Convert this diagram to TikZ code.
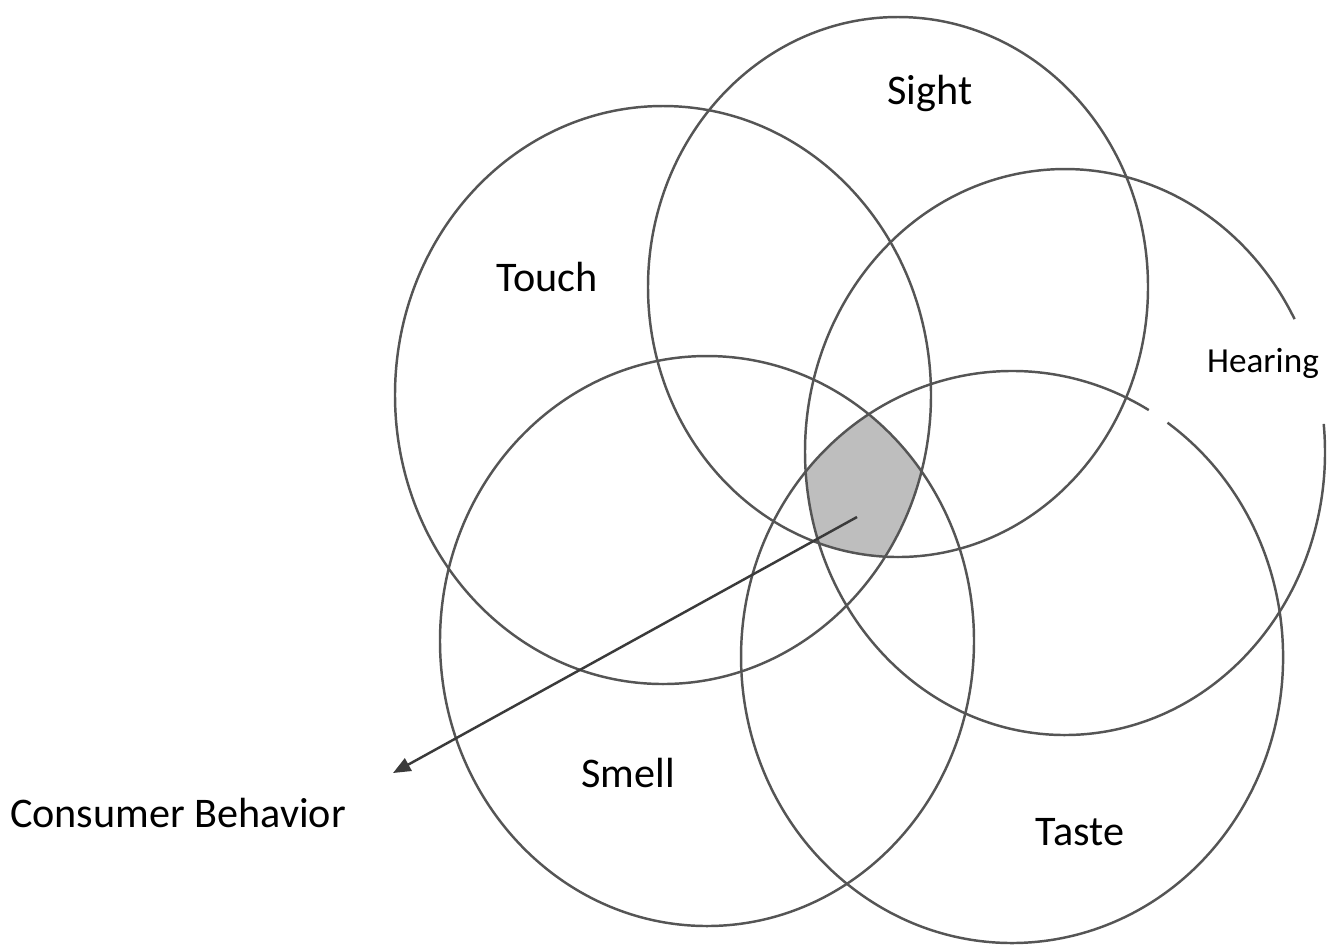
\documentclass[tikz,border=0pt]{standalone}
\usepackage{fontspec}
\setmainfont{Carlito}
\usetikzlibrary{arrows.meta}
\definecolor{ringgray}{HTML}{555555}
\definecolor{coregray}{HTML}{BEBEBE}
\definecolor{arrowgray}{HTML}{3A3A3A}
\tikzset{
  ring/.style={draw=ringgray, line width=0.7pt},
  sense/.style={font=\fontsize{12}{14}\selectfont, inner sep=0pt},
}
\begin{document}
\begin{tikzpicture}[x=0.01cm, y=-0.01cm]
    \useasboundingbox (0,0) rectangle (1330,944);

    % shaded core: inside all five senses
    \begin{scope}
        \clip (898,287) ellipse [x radius=250, y radius=270];
        \clip (663,395) ellipse [x radius=268, y radius=289];
        \clip (1065,452) ellipse [x radius=260, y radius=283];
        \clip (707,641) ellipse [x radius=267, y radius=285];
        \fill[coregray] (1012,657) ellipse [x radius=271, y radius=286];
    \end{scope}

    % the five senses
    \draw[ring] (898,287) ellipse [x radius=250, y radius=270];
    \draw[ring] (663,395) ellipse [x radius=268, y radius=289];
    \draw[ring] (1323.7,423.9) arc [start angle=-5.7, end angle=332, x radius=260, y radius=283];
    \draw[ring] (707,641) ellipse [x radius=267, y radius=285];
    \draw[ring] (1167.5,422.7) arc [start angle=-55, end angle=300.3, x radius=271, y radius=286];

    \node[sense] (sight) at (930,93) {Sight};
    \node[sense] (touch) at (547,277) {Touch};
    \node[sense, font=\fontsize{10}{12}\selectfont] (hearing) at (1263,363) {Hearing};
    \node[sense] (smell) at (628,773) {Smell};
    \node[sense] (taste) at (1080,832) {Taste};
    \node[sense] (behavior) at (178,813) {Consumer Behavior};

    \coordinate (core) at (857,517);
    \coordinate (tip) at (393,773);
    \draw[-{Triangle[length=5pt,width=4pt]}, draw=arrowgray, fill=arrowgray, line width=0.7pt] (core) -- (tip);
\end{tikzpicture}
\end{document}
